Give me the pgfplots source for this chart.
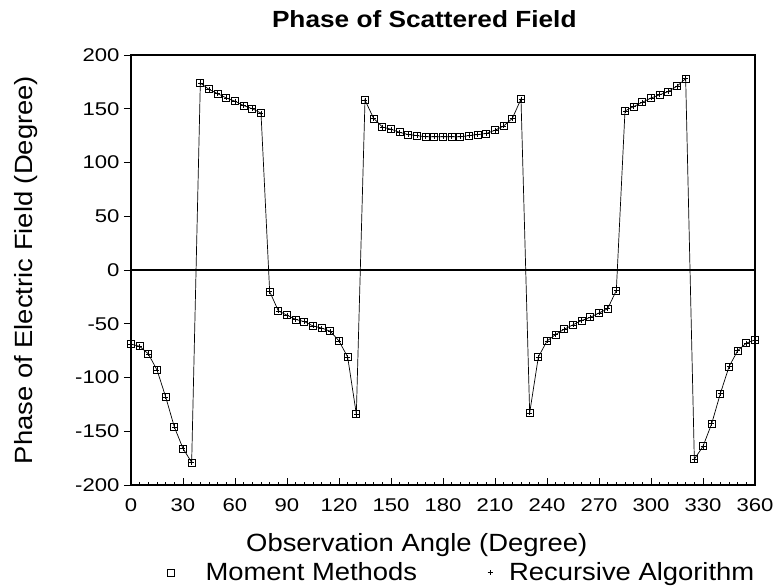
\documentclass[border=0pt]{standalone}
\usepackage{fontspec}
\setmainfont{Liberation Sans}[FakeStretch=1.1]
\newfontfamily\tickfont{Liberation Sans}[FakeStretch=1.2]
\newfontfamily\titlefont{Liberation Sans}[FakeStretch=1.12]
\usepackage{pgfplots}
\pgfplotsset{compat=1.18}
\usepackage{pgfplotstable}
\pgfplotsset{
  legA/.style={legend image code/.code={\path[draw=none] (0bp,0bp) -- (42bp,0bp); \draw[##1] plot coordinates {(9bp,0bp)};}},
  legB/.style={legend image code/.code={\path[draw=none] (0bp,0bp) -- (26bp,0bp); \draw[##1] plot coordinates {(9bp,0bp)};}},
}
\pgfplotstableread{
x y
0 -69
5 -71
10 -78
15 -93
20 -118
25 -146
30 -166
35 -179
40 174
45 168
50 164
55 160
60 157
65 153
70 150
75 146
80 -20
85 -38
90 -42
95 -46
100 -48
105 -52
110 -54
115 -57
120 -66
125 -81
130 -134
135 158
140 141
145 133
150 131
155 128
160 126
165 125
170 124
175 124
180 124
185 124
190 124
195 125
200 126
205 127
210 130
215 134
220 141
225 159
230 -133
235 -81
240 -66
245 -60
250 -55
255 -51
260 -47
265 -44
270 -40
275 -36
280 -19
285 148
290 152
295 156
300 160
305 163
310 166
315 171
320 178
325 -176
330 -164
335 -143
340 -115
345 -90
350 -75
355 -68
360 -65
}\phasedata
\begin{document}
\begin{tikzpicture}
\begin{axis}[
  scale only axis,
  width=624bp, height=430bp,
  xmin=0, xmax=360, ymin=-200, ymax=200,
  xtick={0,30,...,360}, ytick={-200,-150,...,200},
  minor x tick num=5,
  xtick pos=bottom, ytick pos=left,
  x tick style={black, line width=0.7bp},
  y tick style={black, line width=0.7bp},
  xtick align=inside, ytick align=outside,
  major tick length=7bp, minor tick length=3.5bp,
  axis line style={black, line width=1.4bp},
  /pgf/number format/assume math mode=true,
  ticklabel style={font=\tickfont\fontsize{18.5}{20}\selectfont},
  yticklabel style={xshift=-1bp},
  xticklabel style={yshift=-10bp},
  title={\titlefont\bfseries Phase of Scattered Field},
  title style={font=\fontsize{23.5}{26}\selectfont, at={(axis description cs:0.47,1)}, yshift=22bp, anchor=base},
  xlabel={Observation Angle (Degree)},
  xlabel style={font=\fontsize{25}{28}\selectfont, at={(axis description cs:0.458,-0.1535)}, anchor=base},
  ylabel={Phase of Electric Field (Degree)},
  ylabel style={font=\fontsize{25}{28}\selectfont, at={(axis description cs:-0.168,0.5)}, anchor=center, rotate=0},
  legend columns=2,
  legend style={draw=none, fill=none, inner sep=0pt, outer sep=0pt, font=\fontsize{25}{28}\selectfont, at={(axis description cs:0.0489,-0.231)}, anchor=south west, /tikz/every even column/.append style={column sep=62bp}},
  legend cell align=left,
]
\addplot[black, line width=0.7bp, forget plot] table[x=x,y=y]{\phasedata};
\draw[black, line width=1.4bp] (axis cs:0,0) -- (axis cs:360,0);
\addplot[only marks, mark=square, mark size=3.5bp, mark options={black, line width=0.8bp, fill=white}, legA] table[x=x,y=y]{\phasedata};
\addlegendentry{Moment Methods}
\addplot[only marks, mark=+, mark size=2.5bp, mark options={black, line width=0.6bp}, legB] table[x=x,y=y]{\phasedata};
\addlegendentry{Recursive Algorithm}
\end{axis}
\pgfresetboundingbox
\path ([shift={(-131bp,-101bp)}]current axis.south west) rectangle ([shift={(20bp,55bp)}]current axis.north east);
\end{tikzpicture}
\end{document}
